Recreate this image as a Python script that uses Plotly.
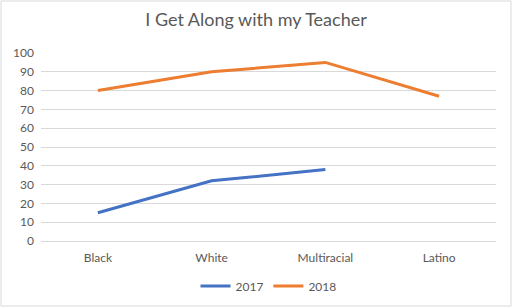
import plotly.graph_objects as go

categories = ["Black", "White", "Multiracial", "Latino"]
values_2017 = [15, 32, 38, None]
values_2018 = [80, 90, 95, 77]
y_ticks = list(range(0, 101, 10))

W, H = 512, 307
ml, mr, mt, mb = 41, 16, 53, 66
pw, ph = W - ml - mr, H - mt - mb

fig = go.Figure()
fig.add_trace(go.Scatter(x=categories, y=values_2017, mode="lines", name="2017",
                         line=dict(color="#4472C4", width=3), connectgaps=False))
fig.add_trace(go.Scatter(x=categories, y=values_2018, mode="lines", name="2018",
                         line=dict(color="#ED7D31", width=3)))

grey = "#595959"
fig.update_layout(
    width=W, height=H,
    margin=dict(l=ml, r=mr, t=mt, b=mb, autoexpand=False),
    paper_bgcolor="white", plot_bgcolor="white",
    font=dict(family="Lato, Open Sans, sans-serif", size=12, color=grey),
    title=dict(text="I Get Along with my Teacher", x=0.5, xanchor="center",
               y=1 - 20 / H, yanchor="middle",
               font=dict(size=18, color=grey)),
    xaxis=dict(type="category", range=[-0.5, 3.5], showgrid=False,
               showline=True, linecolor="#d9d9d9", linewidth=1, automargin=False,
               ticks="", ticklabelstandoff=6,
               tickfont=dict(size=12, color=grey), fixedrange=True),
    yaxis=dict(range=[0, 100], tickvals=y_ticks, showgrid=True, automargin=False,
               gridcolor="#d9d9d9", gridwidth=1, zeroline=False,
               showline=False, ticks="", ticklabelstandoff=6,
               tickfont=dict(size=12, color=grey), fixedrange=True),
    legend=dict(orientation="h", x=0.5, xanchor="center",
                yref="container", y=(H - 286) / H,
                yanchor="middle", font=dict(size=12, color=grey),
                itemwidth=30),
    shapes=[dict(type="rect", xref="paper", yref="paper",
                 x0=-(ml - 1) / pw, x1=1 + (mr - 1) / pw,
                 y0=-(mb - 1) / ph, y1=1 + (mt - 1) / ph,
                 line=dict(color="#d9d9d9", width=1), layer="below")],
)

fig.write_html("out.html")
